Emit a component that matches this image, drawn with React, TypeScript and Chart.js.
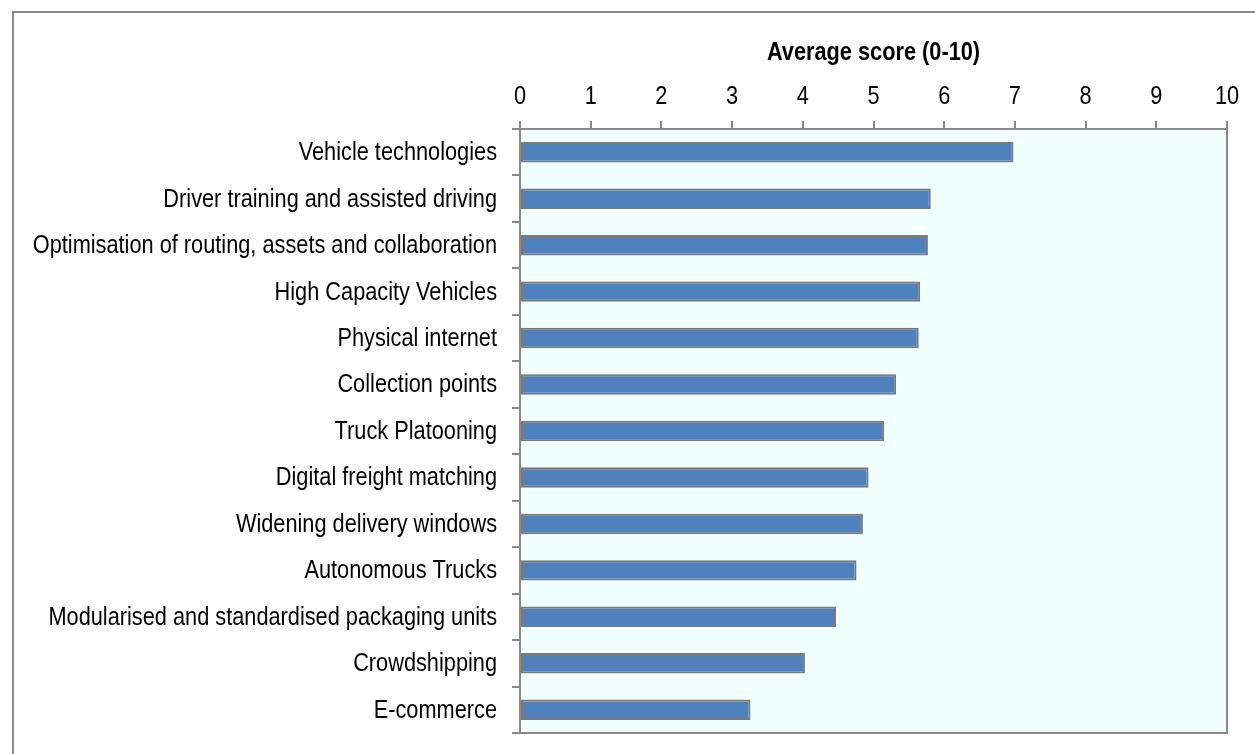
import React, { useEffect, useRef } from "react";
import { Chart, registerables } from "chart.js";

Chart.register(...registerables);

const categories = [
  "Vehicle technologies",
  "Driver training and assisted driving",
  "Optimisation of routing, assets and collaboration",
  "High Capacity Vehicles",
  "Physical internet",
  "Collection points",
  "Truck Platooning",
  "Digital freight matching",
  "Widening delivery windows",
  "Autonomous Trucks",
  "Modularised and standardised packaging units",
  "Crowdshipping",
  "E-commerce",
];

const scores = [6.98, 5.81, 5.77, 5.66, 5.64, 5.32, 5.15, 4.93, 4.85, 4.76, 4.47, 4.03, 3.26];

const axisTitle = "Average score (0-10)";
const xMin = 0;
const xMax = 10;
const xStep = 1;

const FONT = "'Liberation Sans', Arial, sans-serif";
const FONT_SIZE = 25;
const CONDENSE = 0.87;
const GRAY = "#898989";

// draws text horizontally condensed (narrow face look) using fillText's maxWidth
function narrowText(ctx: CanvasRenderingContext2D, text: string, x: number, y: number) {
  const w = ctx.measureText(text).width;
  ctx.fillText(text, x, y, w * CONDENSE);
}

const framePlugin = {
  id: "frame",
  beforeDraw(chart: any) {
    const { ctx, chartArea: a, width, height } = chart;
    ctx.save();
    ctx.fillStyle = "#ffffff";
    ctx.fillRect(0, 0, width, height);
    ctx.strokeStyle = GRAY;
    ctx.lineWidth = 2;
    ctx.beginPath();
    ctx.moveTo(13, height);
    ctx.lineTo(13, 12);
    ctx.lineTo(width, 12);
    ctx.stroke();
    ctx.fillStyle = "#F2FFFF";
    ctx.fillRect(a.left, a.top, a.right - a.left, a.bottom - a.top);
    ctx.restore();
  },
  afterDraw(chart: any) {
    const { ctx, chartArea: a } = chart;
    const xs = chart.scales.x;
    const ys = chart.scales.y;
    ctx.save();
    ctx.strokeStyle = GRAY;
    ctx.lineWidth = 2;
    ctx.beginPath();
    ctx.moveTo(a.left, a.bottom);
    ctx.lineTo(a.right, a.bottom);
    ctx.lineTo(a.right, a.top);
    ctx.stroke();

    ctx.fillStyle = "#000";
    ctx.textBaseline = "middle";
    ctx.font = `${FONT_SIZE}px ${FONT}`;

    // category labels
    ctx.textAlign = "right";
    ys.ticks.forEach((t: any, i: number) => {
      const label = ys.getLabelForValue(t.value);
      narrowText(ctx, String(label), a.left - 23, ys.getPixelForTick(i) + 1);
    });

    // value tick labels
    ctx.textAlign = "center";
    xs.ticks.forEach((t: any, i: number) => {
      narrowText(ctx, String(t.value), xs.getPixelForTick(i), 97);
    });

    // axis title
    ctx.font = `bold ${FONT_SIZE}px ${FONT}`;
    narrowText(ctx, axisTitle, (a.left + a.right) / 2, 53);
    ctx.restore();
  },
};

export default function App() {
  const ref = useRef<HTMLCanvasElement | null>(null);

  useEffect(() => {
    if (!ref.current) return;
    const chart = new Chart(ref.current, {
      type: "bar",
      data: {
        labels: categories,
        datasets: [
          {
            data: scores,
            backgroundColor: "#4F81BD",
            borderColor: "#7A7A7A",
            borderWidth: 2,
            borderSkipped: false,
            categoryPercentage: 1,
            barPercentage: 0.44,
          },
        ],
      },
      options: {
        indexAxis: "y",
        animation: false,
        responsive: false,
        maintainAspectRatio: false,
        layout: { padding: { left: 0, top: 0, right: 28, bottom: 21 } },
        plugins: {
          legend: { display: false },
          tooltip: { enabled: false },
        },
        scales: {
          x: {
            type: "linear",
            position: "top",
            min: xMin,
            max: xMax,
            ticks: {
              display: false,
              stepSize: xStep,
            },
            grid: {
              drawOnChartArea: false,
              drawTicks: true,
              tickLength: 8,
              color: GRAY,
              lineWidth: 2,
            },
            border: { display: true, color: GRAY, width: 2 },
            afterFit: (scale: any) => {
              scale.height = 129;
            },
          },
          y: {
            type: "category",
            ticks: { display: false },
            grid: {
              drawOnChartArea: false,
              drawTicks: true,
              tickLength: 8,
              color: GRAY,
              lineWidth: 2,
              offset: true,
            },
            border: { display: true, color: GRAY, width: 2 },
            afterFit: (scale: any) => {
              scale.width = 520;
            },
          },
        },
      },
      plugins: [framePlugin],
    });
    return () => chart.destroy();
  }, []);

  return (
    <div style={{ position: "fixed", left: 0, top: 0, width: 1255, height: 754 }}>
      <canvas ref={ref} width={1255} height={754} />
    </div>
  );
}
